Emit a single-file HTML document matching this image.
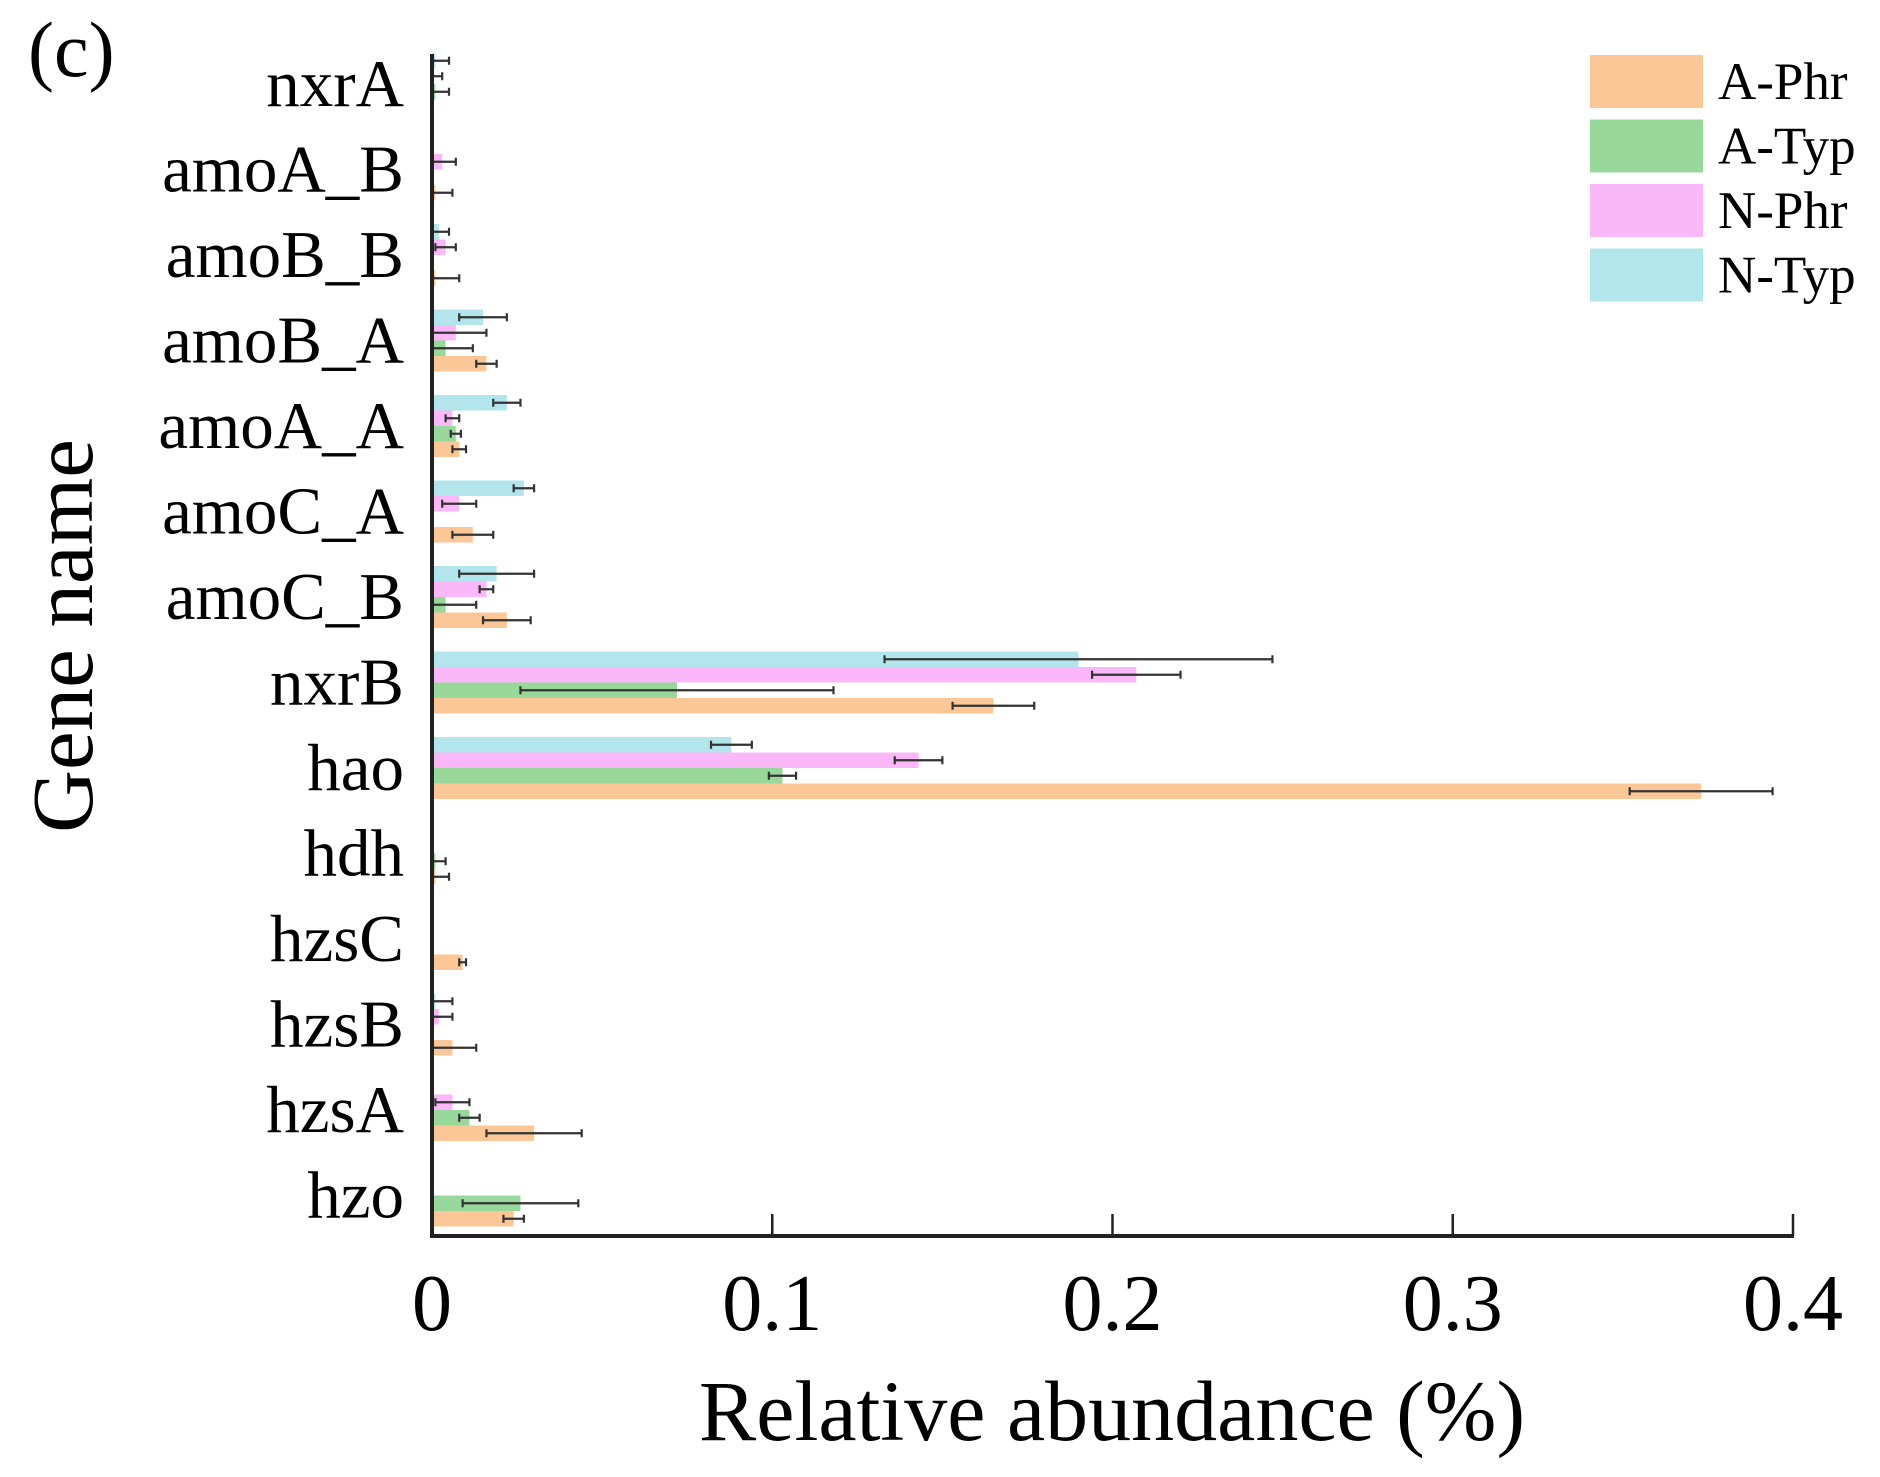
<!DOCTYPE html>
<html><head><meta charset="utf-8"><style>
html,body{margin:0;padding:0;background:#fff;}
svg{display:block;font-family:"Liberation Serif",serif;}
</style></head><body>
<svg id="chart" width="1880" height="1477" viewBox="0 0 1880 1477" xmlns="http://www.w3.org/2000/svg">
<text x="28" y="76" font-size="78">(c)</text>
<text transform="translate(92,636) rotate(-90)" text-anchor="middle" font-size="87">Gene name</text>
<text x="1112" y="1440" text-anchor="middle" font-size="86">Relative abundance (%)</text>
<g id="bars"></g>
<g id="axes"></g>
<g id="legend"></g>
</svg>
<script>
const categories = ["nxrA","amoA_B","amoB_B","amoB_A","amoA_A","amoC_A","amoC_B","nxrB","hao","hdh","hzsC","hzsB","hzsA","hzo"];
const seriesNames = ["N-Typ","N-Phr","A-Typ","A-Phr"];
const nTyp = [0.001,0,0.002,0.015,0.022,0.027,0.019,0.19,0.088,0,0,0.001,0,0];
const nTypErr = [0.004,0,0.003,0.007,0.004,0.003,0.011,0.057,0.006,0,0,0.005,0,0];
const nPhr = [0,0.003,0.004,0.007,0.006,0.008,0.016,0.207,0.143,0,0,0.002,0.006,0];
const nPhrErr = [0.003,0.004,0.003,0.009,0.002,0.005,0.002,0.013,0.007,0,0,0.004,0.005,0];
const aTyp = [0.001,0,0,0.004,0.007,0,0.004,0.072,0.103,0.001,0,0,0.011,0.026];
const aTypErr = [0.004,0,0,0.008,0.0015,0,0.009,0.046,0.004,0.003,0,0,0.003,0.017];
const aPhr = [0,0.001,0.001,0.016,0.008,0.012,0.022,0.165,0.373,0.001,0.009,0.006,0.03,0.024];
const aPhrErr = [0,0.005,0.007,0.003,0.002,0.006,0.007,0.012,0.021,0.004,0.001,0.007,0.014,0.003];
const xTicks = [0,0.1,0.2,0.3,0.4];
const xTickLabels = ["0","0.1","0.2","0.3","0.4"];

const NS="http://www.w3.org/2000/svg";
const X0=432,X1=1793,XMAX=0.4,Ytop=54,Ybot=1236;
const xs=v=>X0+(v/XMAX)*(X1-X0);
const catY=i=>84+i*85.5;
const colors={"N-Typ":"#b2e6ec","N-Phr":"#fbb8f8","A-Typ":"#98d89a","A-Phr":"#fcc796"};
const vals=[nTyp,nPhr,aTyp,aPhr], errs=[nTypErr,nPhrErr,aTypErr,aPhrErr];
function mk(t,a,p){const e=document.createElementNS(NS,t);for(const k in a)e.setAttribute(k,a[k]);p.appendChild(e);return e;}
const bars=document.getElementById('bars');
const BH=15.5,STEP=15.5;
categories.forEach((c,i)=>{
  const yc=catY(i);
  const lab=mk('text',{x:404,y:yc+22,'text-anchor':'end','font-size':67},bars);
  lab.textContent=c;
  
  
  seriesNames.forEach((s,j)=>{
    const y=yc-2*STEP+j*STEP;
    const v=vals[j][i], er=errs[j][i];
    const r=mk('rect',{x:X0,y:y,width:Math.max(0,xs(v)-X0),height:BH,fill:colors[s]},bars);
    
    
    if(er>0){
      const cy=y+BH/2, a=xs(Math.max(0,v-er)), b=xs(v+er);
      const g=mk('g',{stroke:'#333','stroke-width':2.2},bars);
      
      
      mk('line',{x1:a,y1:cy,x2:b,y2:cy},g);
      mk('line',{x1:a,y1:cy-4,x2:a,y2:cy+4},g);
      mk('line',{x1:b,y1:cy-4,x2:b,y2:cy+4},g);
    }
  });
});
const axes=document.getElementById('axes');
const ya=mk('line',{x1:X0,y1:Ytop,x2:X0,y2:Ybot,stroke:'#222','stroke-width':4},axes);

const xa=mk('line',{x1:X0-2,y1:Ybot,x2:X1+1,y2:Ybot,stroke:'#222','stroke-width':4},axes);

xTicks.forEach((t,k)=>{
  const x=xs(t);
  const tk=mk('line',{x1:x,y1:Ybot,x2:x,y2:Ybot-22,stroke:'#222','stroke-width':2.5},axes);
  
  const tl=mk('text',{x:x,y:1330,'text-anchor':'middle','font-size':80},axes);
  tl.textContent=xTickLabels[k];
  
});
const legend=document.getElementById('legend');
["A-Phr","A-Typ","N-Phr","N-Typ"].forEach((s,k)=>{
  const y=55+k*64.5;
  const sw=mk('rect',{x:1590,y:y,width:113,height:53,fill:colors[s]},legend);
  
  const t=mk('text',{x:1718,y:y+44,'font-size':53},legend);
  t.textContent=s;
  
});
</script>
</body></html>
